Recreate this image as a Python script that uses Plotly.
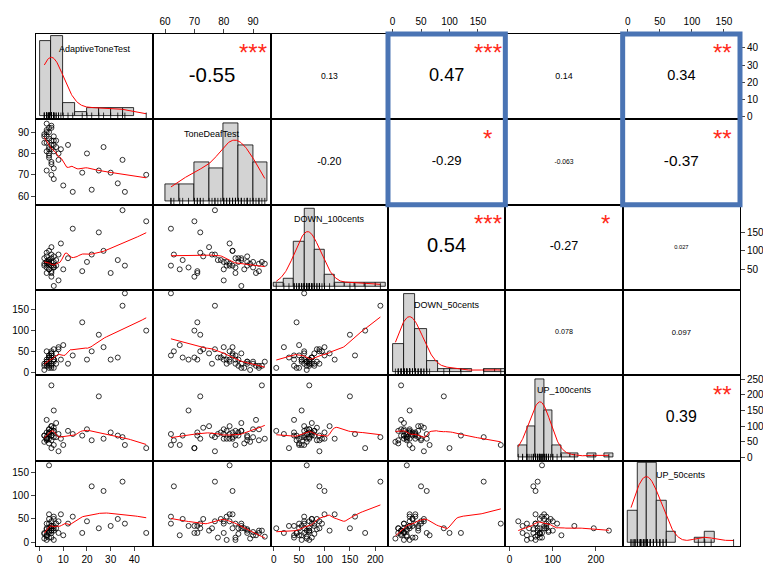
import numpy as np
import plotly.graph_objects as go
from plotly.subplots import make_subplots

names = ["AdaptiveToneTest", "ToneDeafTest", "DOWN_100cents", "DOWN_50cents", "UP_100cents", "UP_50cents"]

adaptive = [2, 3, 3, 4, 4, 4, 5, 5, 5, 5, 6, 6, 6, 3, 2, 4, 5, 7, 8, 3, 4, 5, 6, 2, 3,
            4, 5, 6, 3, 4, 7, 8, 9, 10, 12, 14, 18, 20, 22, 25, 27, 30, 33, 35, 36, 45, 4, 5, 6, 3]
tonedeaf = [88, 90, 85, 92, 80, 78, 86, 92, 82, 76, 88, 84, 73, 91, 89, 83, 70, 86, 80, 94, 87, 75, 81, 85, 72,
            90, 84, 68, 88, 79, 83, 77, 82, 65, 84, 62, 71, 80, 63, 72, 83, 71, 66, 77, 62, 70, 82, 93, 86, 81]
down100 = [60, 55, 70, 65, 50, 75, 80, 45, 60, 90, 70, 55, 85, 40, 65, 100, 30, 75, 20, 65, 50, 110, 60, 80, 95,
           70, 40, 55, 85, 75, 60, 90, 120, 50, 80, 160, 45, 70, 90, 150, 100, 40, 75, 210, 60, 180, 65, 70, 5, 70]
down50 = [20, 25, 30, 15, 40, 35, 45, 10, 50, 20, 25, 30, 55, 15, 5, 40, 35, 20, 60, 25, 10, 45, 30, 15, 50,
          20, 40, 30, 25, 35, 45, 55, 30, 65, 20, 40, 120, 30, 50, 90, 60, 30, 35, 160, 190, 100, 25, 15, 10, 20]
up100 = [70, 65, 80, 90, 60, 75, 85, 55, 100, 70, 65, 40, 95, 120, 50, 80, 30, 110, 75, 60, 45, 100, 85, 70, 60,
         90, 70, 150, 55, 80, 65, 20, 60, 40, 85, 75, 70, 90, 55, 195, 60, 80, 70, 65, 40, 30, 75, 230, 85, 60]
up50 = [20, 15, 30, 25, 40, 10, 35, 20, 45, 30, 25, 5, 50, 15, 8, 60, 35, 40, 20, 12, 30, 25, 55, 18, 40,
        22, 10, 35, 28, 50, 30, 45, 60, 15, 40, 55, 20, 45, 120, 30, 110, 35, 50, 130, 40, 20, 165, 25, 30, 5]

corr_labels = {(1, 2): "-0.55", (1, 3): "0.13", (1, 4): "0.47", (1, 5): "0.14", (1, 6): "0.34",
               (2, 3): "-0.20", (2, 4): "-0.29", (2, 5): "-0.063", (2, 6): "-0.37",
               (3, 4): "0.54", (3, 5): "-0.27", (3, 6): "0.027",
               (4, 5): "0.078", (4, 6): "0.097", (5, 6): "0.39"}
stars = {(1, 2): "***", (1, 4): "***", (1, 6): "**", (2, 4): "*", (2, 6): "**",
         (3, 4): "***", (3, 5): "*", (5, 6): "**"}

data = [np.array(v, float) for v in [adaptive, tonedeaf, down100, down50, up100, up50]]
ranges = [[-1.5, 48], [56, 96], [-6, 225], [-8, 198], [-10, 262], [-8, 175]]
bin_sizes = [5, 5, 20, 20, 20, 15]
dticks = [10, 10, 50, 50, 50, 50]
bottom_dt = {5: 100}


def lowess(x, y, frac=0.67):
    order = np.argsort(x)
    x, y = x[order], y[order]
    n = len(x)
    k = int(np.ceil(frac * n))
    xs = np.linspace(x.min(), x.max(), 60)
    ys = []
    for x0 in xs:
        d = np.abs(x - x0)
        h = np.sort(d)[k - 1] + 1e-9
        w = np.clip(1 - (d / h) ** 3, 0, None) ** 3
        W = np.sum(w)
        mx, my = np.sum(w * x) / W, np.sum(w * y) / W
        sxx = np.sum(w * (x - mx) ** 2)
        b = np.sum(w * (x - mx) * (y - my)) / sxx if sxx > 0 else 0
        ys.append(my + b * (x0 - mx))
    return xs, np.array(ys)


def kde(v, lo, hi):
    bw = 1.06 * v.std() * len(v) ** -0.2
    xs = np.linspace(lo, hi, 200)
    ys = np.exp(-0.5 * ((xs[:, None] - v[None, :]) / bw) ** 2).sum(1) / (len(v) * bw * np.sqrt(2 * np.pi))
    return xs, ys


fig = make_subplots(rows=6, cols=6, horizontal_spacing=0, vertical_spacing=0)

for i in range(6):
    for j in range(6):
        r, c = i + 1, j + 1
        if i == j:
            v = data[i]
            size = bin_sizes[i]
            lo = np.floor(v.min() / size) * size
            hi = np.ceil(v.max() / size) * size
            counts, _ = np.histogram(v, bins=np.arange(lo, hi + size, size))
            fig.add_trace(go.Histogram(x=v, histnorm="probability density",
                                       xbins=dict(start=lo, end=hi, size=size),
                                       marker=dict(color="#d3d3d3", line=dict(color="black", width=0.8))),
                          row=r, col=c)
            kx, ky = kde(v, v.min(), v.max())
            fig.add_trace(go.Scatter(x=kx, y=ky, mode="lines", line=dict(color="red", width=1)), row=r, col=c)
            fig.add_trace(go.Scatter(x=v, y=np.zeros(len(v)), mode="markers",
                                     marker=dict(symbol="line-ns-open", size=5, color="black", line=dict(width=0.8))),
                          row=r, col=c)
            peak = max(ky.max(), counts.max() / (len(v) * size)) * 1.05
            fig.update_yaxes(range=[-peak * 0.04, peak], row=r, col=c)
            fig.add_annotation(x=(ranges[j][0] + ranges[j][1]) / 2, y=peak * 0.82, text=names[i], showarrow=False,
                               font=dict(size=9, color="black"), row=r, col=c)
        elif i > j:
            fig.add_trace(go.Scatter(x=data[j], y=data[i], mode="markers",
                                     marker=dict(symbol="circle-open", size=5, color="black", line=dict(width=0.8))),
                          row=r, col=c)
            lx, ly = lowess(data[j], data[i])
            fig.add_trace(go.Scatter(x=lx, y=ly, mode="lines", line=dict(color="red", width=1)), row=r, col=c)
            fig.update_yaxes(range=ranges[i], row=r, col=c)
        else:
            lab = corr_labels[(r, c)]
            val = abs(float(lab))
            cx = (ranges[j][0] + ranges[j][1]) / 2
            cy = (ranges[i][0] + ranges[i][1]) / 2
            fig.add_trace(go.Scatter(x=[cx], y=[cy], mode="text", text=[lab],
                                     textfont=dict(size=5 + 28 * val, color="black")), row=r, col=c)
            if (r, c) in stars:
                fig.add_annotation(x=ranges[j][0] + 0.85 * (ranges[j][1] - ranges[j][0]),
                                   y=ranges[i][0] + 0.78 * (ranges[i][1] - ranges[i][0]),
                                   text=stars[(r, c)], showarrow=False,
                                   font=dict(size=24, color="#ff2a1a"), row=r, col=c)
            fig.update_yaxes(range=ranges[i], row=r, col=c)
        fig.update_xaxes(range=ranges[j], row=r, col=c)

fig.update_xaxes(showline=True, mirror=True, linecolor="black", linewidth=1, showgrid=False,
                 zeroline=False, showticklabels=False, ticks="", automargin=False)
fig.update_yaxes(showline=True, mirror=True, linecolor="black", linewidth=1, showgrid=False,
                 zeroline=False, showticklabels=False, ticks="", automargin=False)

tick_style = dict(showticklabels=True, ticks="outside", ticklen=4, tickfont=dict(size=10, color="black"))
for j in range(6):
    if j % 2 == 0:
        fig.update_xaxes(row=6, col=j + 1, tick0=0, dtick=bottom_dt.get(j + 1, dticks[j]), **tick_style)
    else:
        fig.update_xaxes(row=1, col=j + 1, side="top", tick0=0, dtick=dticks[j], **tick_style)
for i in range(6):
    if i % 2 == 1:
        fig.update_yaxes(row=i + 1, col=1, tick0=0, dtick=dticks[i], **tick_style)
    else:
        fig.update_yaxes(row=i + 1, col=6, side="right", tick0=0, dtick=dticks[i], **tick_style)
fig.update_yaxes(row=3, col=6, tickmode="array", tickvals=[50, 100, 150])

# blue highlight boxes
for c in (4, 6):
    xd = fig.get_subplot(1, c).xaxis.domain
    y_top = fig.get_subplot(1, c).yaxis.domain[1]
    y_bot = fig.get_subplot(2, c).yaxis.domain[0]
    fig.add_shape(type="rect", xref="paper", yref="paper", x0=xd[0], x1=xd[1], y0=y_bot, y1=y_top,
                  line=dict(color="#4a74b4", width=5))

fig.update_layout(width=756, height=560, showlegend=False, plot_bgcolor="white", paper_bgcolor="white",
                  margin=dict(l=28, r=24, t=26, b=22), bargap=0, font=dict(family="Liberation Sans"))
fig.write_html("out.html")
